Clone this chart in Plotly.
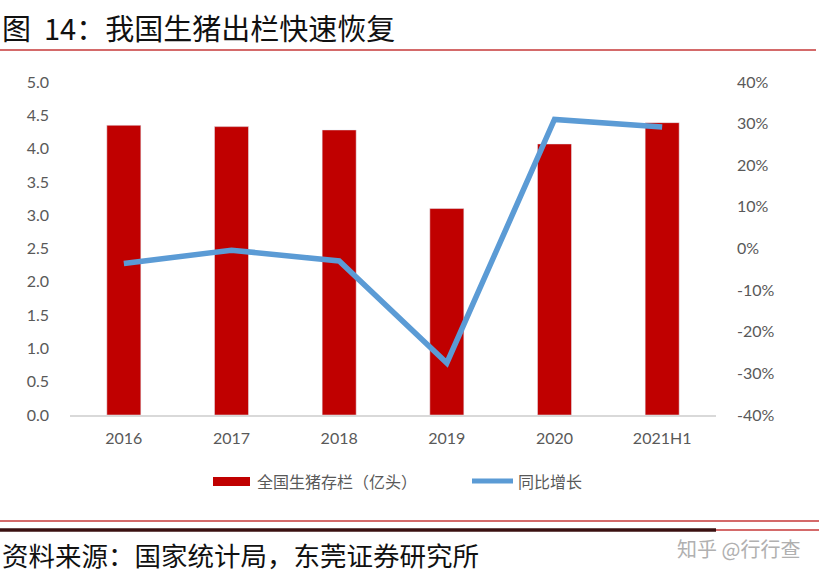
import plotly.graph_objects as go

categories = ["2016", "2017", "2018", "2019", "2020", "2021H1"]
stock = [4.35, 4.33, 4.28, 3.10, 4.07, 4.39]          # 全国生猪存栏（亿头）
yoy = [-3.6, -0.4, -3.0, -27.5, 31.0, 29.2]           # 同比增长 (%)
left_ticks = [0.0, 0.5, 1.0, 1.5, 2.0, 2.5, 3.0, 3.5, 4.0, 4.5, 5.0]
right_ticks = [-40, -30, -20, -10, 0, 10, 20, 30, 40]
right_labels = ["-40%", "-30%", "-20%", "-10%", "0%", "10%", "20%", "30%", "40%"]

W, H = 819, 580
L, R, T, B = 70, 716, 82, 415
PW, PH = R - L, B - T


def px(x):
    return (x - L) / PW


def py(y):
    return (B - y) / PH


BAR = "#C00000"
LINE = "#5B9BD5"
TXT = "#595959"
TICKFONT = dict(family="Lato, Open Sans, sans-serif", size=16, color=TXT)
CJK = "Noto Sans CJK SC"

fig = go.Figure()
fig.add_trace(go.Bar(x=categories, y=stock, marker_color=BAR, name="全国生猪存栏（亿头）",
                     showlegend=False, yaxis="y"))
fig.add_trace(go.Scatter(x=categories, y=yoy, mode="lines", line=dict(color=LINE, width=5.5),
                         name="同比增长", showlegend=False, yaxis="y2"))

shapes = [
    dict(type="line", xref="paper", yref="paper", x0=px(0), x1=px(816), y0=py(50), y1=py(50),
         line=dict(color="#D46A6A", width=2)),
    dict(type="line", xref="paper", yref="paper", x0=px(0), x1=px(819), y0=py(521), y1=py(521),
         line=dict(color="#D46A6A", width=2)),
    dict(type="line", xref="paper", yref="paper", x0=px(0), x1=px(716), y0=py(530), y1=py(530),
         line=dict(color="#3A1010", width=3.5)),
    dict(type="line", xref="paper", yref="paper", x0=px(716), x1=px(819), y0=py(530), y1=py(530),
         line=dict(color="#D46A6A", width=2)),
    # legend keys
    dict(type="rect", xref="paper", yref="paper", x0=px(213), x1=px(250), y0=py(486), y1=py(477),
         fillcolor=BAR, line=dict(width=0)),
    dict(type="line", xref="paper", yref="paper", x0=px(472), x1=px(513), y0=py(481), y1=py(481),
         line=dict(color=LINE, width=5)),
]

annotations = [
    dict(text="图  14：我国生猪出栏快速恢复", xref="paper", yref="paper", x=px(0), y=py(27),
         xanchor="left", yanchor="middle", showarrow=False,
         font=dict(family=CJK, size=29, color="#111111")),
    dict(text="全国生猪存栏（亿头）", xref="paper", yref="paper", x=px(255), y=py(481),
         xanchor="left", yanchor="middle", showarrow=False,
         font=dict(family=CJK, size=16, color=TXT)),
    dict(text="同比增长", xref="paper", yref="paper", x=px(516), y=py(481),
         xanchor="left", yanchor="middle", showarrow=False,
         font=dict(family=CJK, size=16, color=TXT)),
    dict(text="资料来源：国家统计局，东莞证券研究所", xref="paper", yref="paper", x=px(0), y=py(554),
         xanchor="left", yanchor="middle", showarrow=False,
         font=dict(family=CJK, size=26.5, color="#111111")),
    dict(text="知乎 @行行查", xref="paper", yref="paper", x=px(802), y=py(548),
         xanchor="right", yanchor="middle", showarrow=False,
         font=dict(family=CJK, size=20, color="#B0B0B0")),
]

fig.update_layout(
    width=W, height=H,
    margin=dict(l=L, r=W - R, t=T, b=H - B, pad=0),
    paper_bgcolor="white", plot_bgcolor="white",
    bargap=0.684,
    showlegend=False,
    shapes=shapes,
    annotations=annotations,
    xaxis=dict(showline=True, linecolor="#D9D9D9", linewidth=1.5, showgrid=False, zeroline=False,
               ticks="", tickfont=TICKFONT, ticklabelstandoff=8),
    yaxis=dict(range=[0, 5], tickvals=left_ticks, tickformat=".1f", showgrid=False, zeroline=False,
               showline=False, ticks="", tickfont=TICKFONT, ticklabelstandoff=20),
    yaxis2=dict(range=[-40, 40], tickvals=right_ticks, ticktext=right_labels, overlaying="y",
                side="right", showgrid=False, zeroline=False, showline=False, ticks="",
                tickfont=TICKFONT, ticklabelstandoff=20),
)

fig.write_html("out.html")
